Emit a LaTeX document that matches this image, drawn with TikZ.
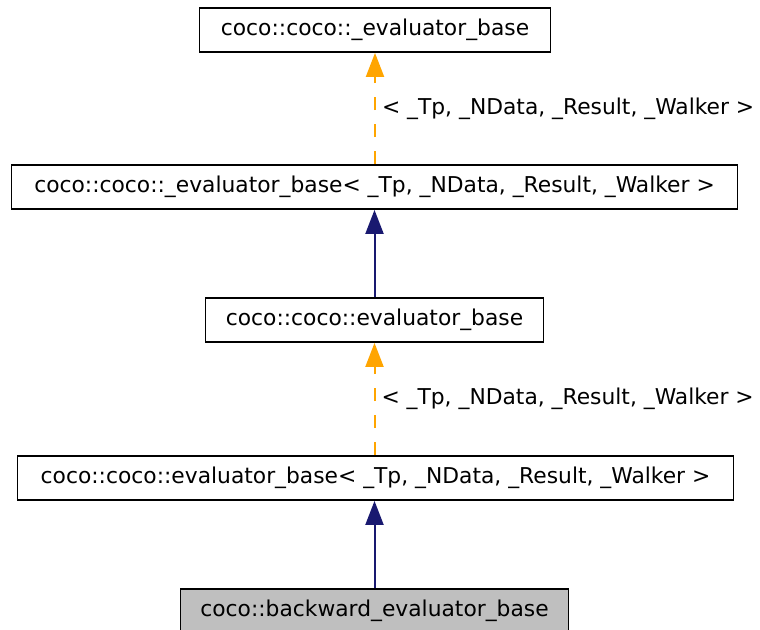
\documentclass[tikz,border=0pt]{standalone}
\usepackage{fontspec}
\setmainfont{DejaVu Sans}
\usetikzlibrary{arrows.meta}
\definecolor{edgeorange}{HTML}{FFA500}
\definecolor{edgenavy}{HTML}{191970}
\definecolor{nodegray}{HTML}{BFBFBF}
\tikzset{
  classbox/.style={draw=black, line width=1.8pt, fill=white, inner sep=0pt,
    minimum height=44pt, font=\fontsize{21.8}{26}\selectfont},
  inherit/.style={draw=edgenavy, line width=2pt,
    -{Triangle[length=24pt,width=18pt]}, edgenavy},
  templ/.style={draw=edgeorange, line width=2pt, dash pattern=on 13pt off 14pt,
    -{Triangle[length=24pt,width=18pt]}, edgeorange},
  elabel/.style={anchor=west, inner sep=0pt, text=black,
    font=\fontsize{21.8}{26}\selectfont}
}
\begin{document}
\begin{tikzpicture}[x=1pt, y=-1pt]
  \useasboundingbox (0,0) rectangle (760,629);
  \clip (0,0) rectangle (760,629);
  \fill[white] (0,0) rectangle (760,629);

  \node[classbox, minimum width=351pt] (b1) at (375,30)
    {coco::coco::\_evaluator\_base};
  \node[classbox, minimum width=726pt] (b2) at (374.5,187)
    {coco::coco::\_evaluator\_base< \_Tp, \_NData, \_Result, \_Walker >};
  \node[classbox, minimum width=338pt] (b3) at (374.5,320)
    {coco::coco::evaluator\_base};
  \node[classbox, minimum width=716pt] (b4) at (375.5,478)
    {coco::coco::evaluator\_base< \_Tp, \_NData, \_Result, \_Walker >};
  \node[classbox, fill=nodegray, minimum width=388pt] (b5) at (374.5,611)
    {coco::backward\_evaluator\_base};

  \draw[templ] (b2.north -| b1.south) -- (b1.south)
    node[elabel, pos=0.5, xshift=6pt] {< \_Tp, \_NData, \_Result, \_Walker >};
  \draw[inherit] (b3.north) -- (b3.north |- b2.south);
  \draw[templ] (b4.north -| b3.south) -- (b3.south)
    node[elabel, pos=0.5, xshift=6pt] {< \_Tp, \_NData, \_Result, \_Walker >};
  \draw[inherit] (b5.north) -- (b5.north |- b4.south);
\end{tikzpicture}
\end{document}
